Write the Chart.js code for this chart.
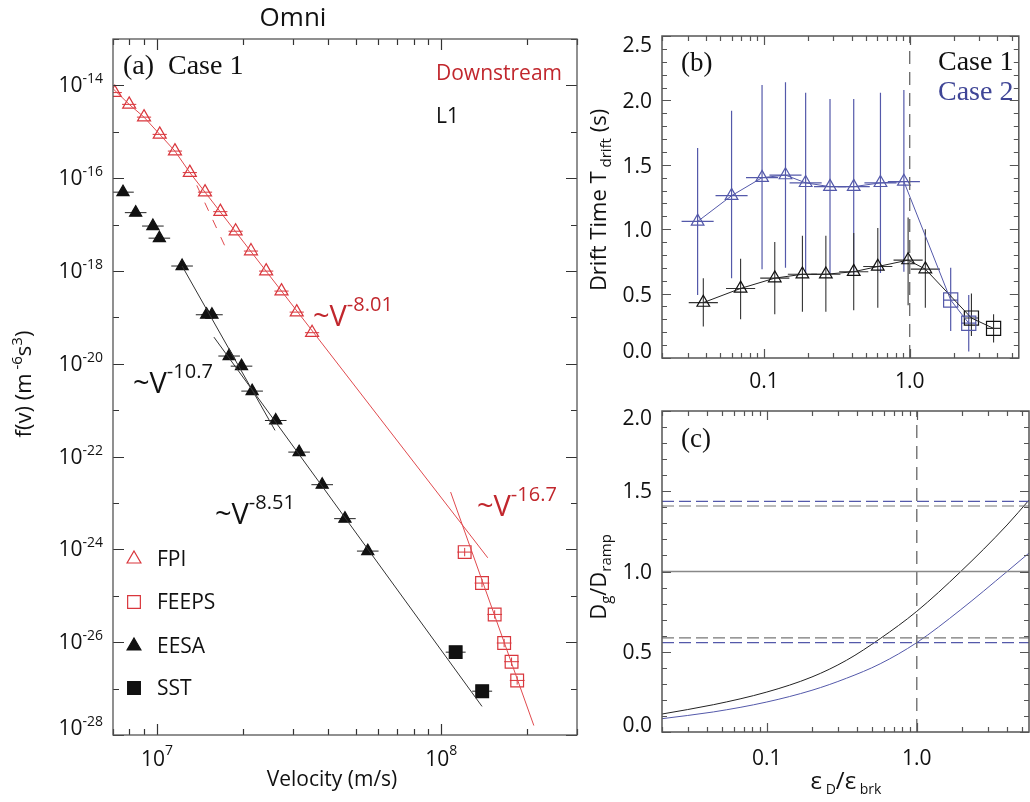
<!DOCTYPE html>
<html>
<head>
<meta charset="utf-8">
<script src="https://cdn.jsdelivr.net/npm/chart.js@4.4.1/dist/chart.umd.min.js"></script>
<style>
  body { margin: 0; background: #fff; }
  #wrap { position: relative; width: 1030px; height: 802px; }
  #wrap canvas { position: absolute; left: 0; top: 0; }
</style>
</head>
<body>
<div id="wrap">
  <canvas id="chartA" width="1030" height="802"></canvas>
  <canvas id="chartB" width="1030" height="802"></canvas>
  <canvas id="chartC" width="1030" height="802"></canvas>
</div>
<script>
// ---- panel (a): omni distribution f(v), case 1 ----
const fpiV = [7.1e6, 7.98e6, 9.0e6, 1.022e7, 1.156e7, 1.304e7, 1.475e7, 1.67e7, 1.89e7, 2.14e7, 2.42e7, 2.74e7, 3.10e7, 3.51e7];
const fpiF = [7.0e-15, 3.9e-15, 2.07e-15, 8.8e-16, 3.84e-16, 1.32e-16, 5.0e-17, 1.9e-17, 7.2e-18, 2.69e-18, 9.95e-19, 3.69e-19, 1.30e-19, 4.68e-20];
const feepsV = [1.208e8, 1.39e8, 1.54e8, 1.663e8, 1.766e8, 1.848e8];
const feepsF = [8.75e-25, 1.88e-25, 3.97e-26, 9.6e-27, 3.8e-27, 1.5e-27];
const eesaV = [7.59e6, 8.41e6, 9.67e6, 1.019e7, 1.225e7, 1.494e7, 1.56e7, 1.793e7, 1.982e7, 2.16e7, 2.615e7, 3.16e7, 3.81e7, 4.58e7, 5.51e7];
const eesaF = [5.0e-17, 1.81e-17, 9.3e-18, 5.1e-18, 1.28e-18, 1.14e-19, 1.14e-19, 1.47e-20, 8.9e-21, 2.58e-21, 6.0e-22, 1.25e-22, 2.48e-23, 4.6e-24, 9.2e-25];
const sstV = [1.123e8, 1.392e8];
const sstF = [6.1e-27, 8.8e-28];

// power-law fits (end points)
const fit801V = [7.0e6, 7.98e6, 9.0e6, 1.022e7, 1.156e7, 1.304e7, 1.475e7, 1.456e8];
const fit801F = [8.5e-15, 3.9e-15, 2.07e-15, 8.8e-16, 3.84e-16, 1.32e-16, 5.0e-17, 6.6e-25];
const fitDashV = [1.38e7, 1.728e7];
const fitDashF = [7.0e-17, 3.56e-18];
const fit107V = [1.225e7, 2.60e7];
const fit107F = [1.28e-18, 3.67e-22];
const fit851V = [1.585e7, 1.39e8];
const fit851F = [3.76e-20, 4.13e-28];
const fit167V = [1.078e8, 2.115e8];
const fit167F = [1.72e-23, 1.6e-28];

const fTickExp = [-14, -16, -18, -20, -22, -24, -26, -28];
const vTickExp = [7, 8];

// ---- panel (b): drift time ----
const epsC2Tri = [0.0351, 0.060, 0.0971, 0.1406, 0.1933, 0.284, 0.413, 0.630, 0.912];
const tC2Tri   = [1.06, 1.26, 1.40, 1.42, 1.36, 1.33, 1.33, 1.36, 1.37];
const tC2TriLo = [0.49, 0.62, 0.69, 0.70, 0.66, 0.65, 0.65, 0.66, 0.67];
const tC2TriHi = [1.63, 1.92, 2.12, 2.14, 2.06, 2.01, 2.01, 2.06, 2.08];
const epsC2Sq  = [1.91, 2.54];
const tC2Sq    = [0.45, 0.27];
const tC2SqLo  = [0.21, 0.05];
const tC2SqHi  = [0.70, 0.49];

const epsC1Tri = [0.0384, 0.0692, 0.1187, 0.1837, 0.266, 0.413, 0.604, 0.975, 1.28];
const tC1Tri   = [0.43, 0.54, 0.62, 0.65, 0.65, 0.67, 0.71, 0.76, 0.69];
const tC1TriLo = [0.245, 0.30, 0.34, 0.36, 0.36, 0.37, 0.39, 0.41, 0.39];
const tC1TriHi = [0.62, 0.77, 0.90, 0.95, 0.95, 0.97, 1.01, 1.09, 1.00];
const epsC1Sq  = [2.65, 3.76];
const tC1Sq    = [0.31, 0.23];
const tC1SqLo  = [0.17, 0.12];
const tC1SqHi  = [0.50, 0.34];

// ---- panel (c): Dg / Dramp ----
const epsCurve   = [0.02, 0.044, 0.1, 0.2, 0.34, 0.57, 1.0, 1.95, 4.0, 5.6];
const ratioCase1 = [0.112, 0.17, 0.249, 0.343, 0.447, 0.582, 0.752, 0.997, 1.29, 1.445];
const ratioCase2 = [0.083, 0.125, 0.187, 0.26, 0.335, 0.425, 0.557, 0.76, 1.0, 1.115];
const refCase1 = [1.408, 0.586];
const refCase2 = [1.437, 0.557];

const epsTicks = [0.1, 1.0];
const epsTickText = ['0.1', '1.0'];

const SANS = "'Open Sans', 'DejaVu Sans', sans-serif";
const SERIF = "'Liberation Serif', 'DejaVu Serif', serif";
const RED = '#c1272d';
const RED_MK = '#d9363c';
const RED_LN = '#e04a4e';
const BLUE = '#3f4596';
const BLUE_LN = '#5459aa';

const zip = (xs, ys) => xs.map((x, i) => ({ x: x, y: ys[i] }));

// text with sub/superscripts: parts = [text, size, dy, family, color]
function rich(ctx, x, y, parts, align, rotate, color) {
  ctx.save();
  ctx.translate(x, y);
  if (rotate) ctx.rotate(rotate);
  ctx.textAlign = 'left';
  ctx.textBaseline = 'alphabetic';
  let total = 0;
  const ws = parts.map(p => {
    ctx.font = p[1] + 'px ' + (p[3] || SANS);
    const w = ctx.measureText(p[0]).width;
    total += w;
    return w;
  });
  let cx = align === 'center' ? -total / 2 : (align === 'right' ? -total : 0);
  parts.forEach((p, i) => {
    ctx.font = p[1] + 'px ' + (p[3] || SANS);
    ctx.fillStyle = p[4] || color || '#111';
    ctx.fillText(p[0], cx, p[2] || 0);
    cx += ws[i];
  });
  ctx.restore();
}

function marker(ctx, style, x, y, r, stroke, fill, lw) {
  ctx.save();
  ctx.beginPath();
  if (style === 'triangle') {
    ctx.moveTo(x, y - r);
    ctx.lineTo(x + r * Math.sin(2 * Math.PI / 3), y - r * Math.cos(2 * Math.PI / 3));
    ctx.lineTo(x + r * Math.sin(4 * Math.PI / 3), y - r * Math.cos(4 * Math.PI / 3));
    ctx.closePath();
  } else {
    const s = r * Math.SQRT1_2;
    ctx.rect(x - s, y - s, 2 * s, 2 * s);
  }
  if (fill) { ctx.fillStyle = fill; ctx.fill(); }
  ctx.lineWidth = lw;
  ctx.strokeStyle = stroke;
  ctx.stroke();
  ctx.restore();
}

function logTicks(lo, hi) {
  const out = [];
  for (let d = Math.floor(Math.log10(lo)); d <= Math.ceil(Math.log10(hi)); d++) {
    for (let m = 1; m <= 9; m++) {
      const v = m * Math.pow(10, d);
      if (v >= lo * 0.999 && v <= hi * 1.001) out.push([v, m === 1]);
    }
  }
  return out;
}

function drawErrorBars(chart) {
  const { ctx, chartArea: a, scales: { x, y } } = chart;
  ctx.save();
  ctx.beginPath();
  ctx.rect(a.left, a.top, a.right - a.left, a.bottom - a.top);
  ctx.clip();
  chart.data.datasets.forEach(ds => {
    const b = ds.bars;
    if (!b) return;
    ctx.strokeStyle = b.color;
    ctx.lineWidth = b.width || 1;
    ds.data.forEach((p, i) => {
      const px = x.getPixelForValue(p.x), py = y.getPixelForValue(p.y);
      ctx.beginPath();
      if (b.xLog) {
        const k = Math.pow(10, b.xLog);
        ctx.moveTo(x.getPixelForValue(p.x / k), py);
        ctx.lineTo(x.getPixelForValue(p.x * k), py);
      }
      if (b.yLog) {
        const k = Math.pow(10, b.yLog);
        ctx.moveTo(px, y.getPixelForValue(p.y / k));
        ctx.lineTo(px, y.getPixelForValue(p.y * k));
      }
      if (b.lo) {
        ctx.moveTo(px, y.getPixelForValue(b.lo[i]));
        ctx.lineTo(px, y.getPixelForValue(b.hi[i]));
      }
      ctx.stroke();
    });
  });
  ctx.restore();
}

function drawAxes(chart, cfg) {
  const { ctx, chartArea: a, scales } = chart;
  ctx.save();
  ctx.lineWidth = cfg.tickWidth;
  ctx.strokeStyle = cfg.tickColor;
  ctx.beginPath();
  cfg.xTicks.forEach(([v, major]) => {
    const px = Math.round(scales.x.getPixelForValue(v)) + 0.5;
    const len = major ? cfg.major : cfg.minor;
    ctx.moveTo(px, a.bottom); ctx.lineTo(px, a.bottom - len);
    ctx.moveTo(px, a.top); ctx.lineTo(px, a.top + len);
  });
  cfg.yTicks.forEach(([v, major]) => {
    const py = Math.round(scales.y.getPixelForValue(v)) + 0.5;
    const len = major ? cfg.major : cfg.minor;
    ctx.moveTo(a.left, py); ctx.lineTo(a.left + len, py);
    ctx.moveTo(a.right, py); ctx.lineTo(a.right - len, py);
  });
  ctx.stroke();
  ctx.strokeStyle = cfg.frameColor;
  ctx.lineWidth = cfg.frameWidth;
  ctx.strokeRect(a.left, a.top, a.right - a.left, a.bottom - a.top);
  ctx.restore();
}

function lineSet(xs, ys, color, extra) {
  return Object.assign({
    data: zip(xs, ys), showLine: true, pointRadius: 0, borderColor: color,
    borderWidth: 1, fill: false
  }, extra || {});
}

function markSet(xs, ys, style, r, color, filled, bars) {
  return {
    data: zip(xs, ys), showLine: false, pointStyle: style, pointRadius: r,
    pointBorderColor: color, pointBackgroundColor: filled ? color : 'rgba(0,0,0,0)',
    pointBorderWidth: 1.2, clip: 0, bars: bars
  };
}

const baseOpts = {
  responsive: false,
  animation: false,
  events: [],
  plugins: { legend: { display: false }, tooltip: { enabled: false } }
};

// ---------------- chart (a) ----------------
const yTicksA = [];
for (let d = -28; d <= -13; d++) yTicksA.push([Math.pow(10, d), d % 2 === 0]);

new Chart(document.getElementById('chartA'), {
  type: 'scatter',
  data: {
    datasets: [
      lineSet(fit801V, fit801F, RED_LN),
      lineSet(fitDashV, fitDashF, RED_LN, { borderDash: [9, 10] }),
      lineSet(fit107V, fit107F, '#333'),
      lineSet(fit851V, fit851F, '#333'),
      lineSet(fit167V, fit167F, RED_LN),
      markSet(fpiV, fpiF, 'triangle', 7.5, RED_MK, false, { xLog: 0.025, color: RED_MK }),
      markSet(feepsV, feepsF, 'rect', 9, RED_MK, false, { xLog: 0.026, yLog: 0.09, color: RED_MK }),
      markSet(eesaV, eesaF, 'triangle', 7, '#111', true, { xLog: 0.038, color: '#222' }),
      markSet(sstV, sstF, 'rect', 9, '#111', true, { xLog: 0.035, color: '#222' })
    ]
  },
  options: Object.assign({}, baseOpts, {
    layout: { padding: { left: 113, top: 39, right: 453, bottom: 67 } },
    scales: {
      x: { type: 'logarithmic', min: 7e6, max: 3e8, display: false },
      y: { type: 'logarithmic', min: 1e-28, max: 1e-13, display: false }
    }
  }),
  plugins: [{
    id: 'panelA',
    beforeDatasetsDraw: drawErrorBars,
    afterDraw(chart) {
      const { ctx, scales: { x, y } } = chart;
      drawAxes(chart, {
        xTicks: logTicks(7e6, 3e8), yTicks: yTicksA, major: 11, minor: 6,
        tickColor: '#333', tickWidth: 1.2, frameColor: '#555', frameWidth: 1.3
      });
      rich(ctx, 293, 26, [['Omni', 26]], 'center');
      fTickExp.forEach(e => {
        const py = y.getPixelForValue(Math.pow(10, e));
        rich(ctx, 103, py + (e === -28 ? 0 : 7), [['10', 21], [String(e), 14, -9]], 'right');
      });
      vTickExp.forEach(e => {
        const px = x.getPixelForValue(Math.pow(10, e));
        rich(ctx, px, 766, [['10', 21], [String(e), 14, -11]], 'center');
      });
      rich(ctx, 332, 786, [['Velocity (m/s)', 21]], 'center');
      rich(ctx, 31, 384, [['f(v) (m', 22], [' -6', 15, -9], ['s', 22], ['3', 15, -9], [')', 22]], 'center', -Math.PI / 2);
      rich(ctx, 123, 74, [['(a)', 28, 0, SERIF]]);
      rich(ctx, 168, 74, [['Case 1', 28, 0, SERIF]]);
      rich(ctx, 436, 80, [['Downstream', 21]], 'left', 0, RED);
      rich(ctx, 436, 123, [['L1', 21]]);
      rich(ctx, 313, 326, [['~V', 29], ['-8.01', 20, -15]], 'left', 0, RED);
      rich(ctx, 133, 393, [['~V', 29], ['-10.7', 20, -15]]);
      rich(ctx, 215, 524, [['~V', 29], ['-8.51', 20, -15]]);
      rich(ctx, 477, 516, [['~V', 29], ['-16.7', 20, -15]], 'left', 0, RED);
      // legend
      const leg = [['FPI', 'triangle', RED_MK, null, 559], ['FEEPS', 'rect', RED_MK, null, 602],
                   ['EESA', 'triangle', '#111', '#111', 646], ['SST', 'rect', '#111', '#111', 688]];
      leg.forEach(l => {
        marker(ctx, l[1], 134, l[4], l[1] === 'rect' ? 9 : 8, l[2], l[3], 1.2);
        rich(ctx, 157, l[4] + 7, [[l[0], 21]]);
      });
    }
  }]
});

// ---------------- chart (b) ----------------
const linTicks = (max) => {
  const out = [];
  for (let i = 0; i <= max * 10; i++) out.push([i / 10, i % 5 === 0]);
  return out;
};

new Chart(document.getElementById('chartB'), {
  type: 'scatter',
  data: {
    datasets: [
      lineSet([1, 1], [0, 2.5], '#666', { borderDash: [13, 8], borderWidth: 1.3 }),
      lineSet(epsC2Tri.concat(epsC2Sq), tC2Tri.concat(tC2Sq), BLUE_LN),
      lineSet(epsC1Tri.concat(epsC1Sq), tC1Tri.concat(tC1Sq), '#222'),
      markSet(epsC2Tri, tC2Tri, 'triangle', 7.3, BLUE_LN, false, { lo: tC2TriLo, hi: tC2TriHi, xLog: 0.11, color: BLUE_LN, width: 1.2 }),
      markSet(epsC2Sq, tC2Sq, 'rect', 10, BLUE_LN, false, { lo: tC2SqLo, hi: tC2SqHi, xLog: 0.05, color: BLUE_LN, width: 1.2 }),
      markSet(epsC1Tri, tC1Tri, 'triangle', 7.3, '#111', false, { lo: tC1TriLo, hi: tC1TriHi, xLog: 0.10, color: '#333', width: 1.1 }),
      markSet(epsC1Sq, tC1Sq, 'rect', 10, '#111', false, { lo: tC1SqLo, hi: tC1SqHi, xLog: 0.05, color: '#333', width: 1.1 })
    ]
  },
  options: Object.assign({}, baseOpts, {
    layout: { padding: { left: 662, top: 36, right: 1, bottom: 444 } },
    scales: {
      x: { type: 'logarithmic', min: 0.02, max: 5.6, display: false },
      y: { type: 'linear', min: 0, max: 2.5, display: false }
    }
  }),
  plugins: [{
    id: 'panelB',
    beforeDatasetsDraw: drawErrorBars,
    afterDraw(chart) {
      const { ctx, scales: { x, y } } = chart;
      drawAxes(chart, {
        xTicks: logTicks(0.02, 5.6), yTicks: linTicks(2.5), major: 9, minor: 5,
        tickColor: '#555', tickWidth: 1.2, frameColor: '#555', frameWidth: 1.5
      });
      [0, 0.5, 1.0, 1.5, 2.0, 2.5].forEach(v => {
        const py = y.getPixelForValue(v);
        const off = v === 2.5 ? 16 : (v === 0 ? 0 : 8);
        rich(ctx, 652, py + off, [[v.toFixed(1), 21]], 'right');
      });
      epsTicks.forEach((v, i) => rich(ctx, x.getPixelForValue(v), 388, [[epsTickText[i], 21]], 'center'));
      rich(ctx, 606, 200, [['Drift Time T', 22], [' drift', 15, 5], [' (s)', 22]], 'center', -Math.PI / 2);
      rich(ctx, 681, 71, [['(b)', 27, 0, SERIF]]);
      rich(ctx, 938, 70, [['Case 1', 28, 0, SERIF]]);
      rich(ctx, 938, 100, [['Case 2', 28, 0, SERIF, BLUE]]);
    }
  }]
});

// ---------------- chart (c) ----------------
new Chart(document.getElementById('chartC'), {
  type: 'scatter',
  data: {
    datasets: [
      lineSet([0.02, 5.6], [1, 1], '#888', { borderWidth: 1.5 }),
      lineSet([0.02, 5.6], [refCase2[0], refCase2[0]], BLUE_LN, { borderDash: [12, 5], borderWidth: 1.2 }),
      lineSet([0.02, 5.6], [refCase1[0], refCase1[0]], '#777', { borderDash: [12, 5], borderWidth: 1.2 }),
      lineSet([0.02, 5.6], [refCase1[1], refCase1[1]], '#777', { borderDash: [12, 5], borderWidth: 1.2 }),
      lineSet([0.02, 5.6], [refCase2[1], refCase2[1]], BLUE_LN, { borderDash: [12, 5], borderWidth: 1.2 }),
      lineSet([1, 1], [0, 2.0], '#666', { borderDash: [13, 8], borderWidth: 1.3 }),
      lineSet(epsCurve, ratioCase1, '#222', { cubicInterpolationMode: 'monotone' }),
      lineSet(epsCurve, ratioCase2, BLUE_LN, { cubicInterpolationMode: 'monotone' })
    ]
  },
  options: Object.assign({}, baseOpts, {
    layout: { padding: { left: 662, top: 411, right: 1, bottom: 70 } },
    scales: {
      x: { type: 'logarithmic', min: 0.02, max: 5.6, display: false },
      y: { type: 'linear', min: 0, max: 2.0, display: false }
    }
  }),
  plugins: [{
    id: 'panelC',
    afterDraw(chart) {
      const { ctx, scales: { x, y } } = chart;
      drawAxes(chart, {
        xTicks: logTicks(0.02, 5.6), yTicks: linTicks(2.0), major: 9, minor: 5,
        tickColor: '#555', tickWidth: 1.2, frameColor: '#555', frameWidth: 1.5
      });
      [0, 0.5, 1.0, 1.5, 2.0].forEach(v => {
        const py = y.getPixelForValue(v);
        const off = v === 2.0 ? 14 : (v === 0 ? 0 : 7);
        rich(ctx, 652, py + off, [[v.toFixed(1), 21]], 'right');
      });
      epsTicks.forEach((v, i) => rich(ctx, x.getPixelForValue(v), 765, [[epsTickText[i], 21]], 'center'));
      rich(ctx, 846, 789, [['\u03b5', 24], [' D', 14, 5], ['/\u03b5', 24], [' brk', 14, 5]], 'center');
      rich(ctx, 606, 577, [['D', 22], ['g', 15, 5], ['/D', 22], ['ramp', 15, 5]], 'center', -Math.PI / 2);
      rich(ctx, 681, 447, [['(c)', 27, 0, SERIF]]);
    }
  }]
});
</script>
</body>
</html>
